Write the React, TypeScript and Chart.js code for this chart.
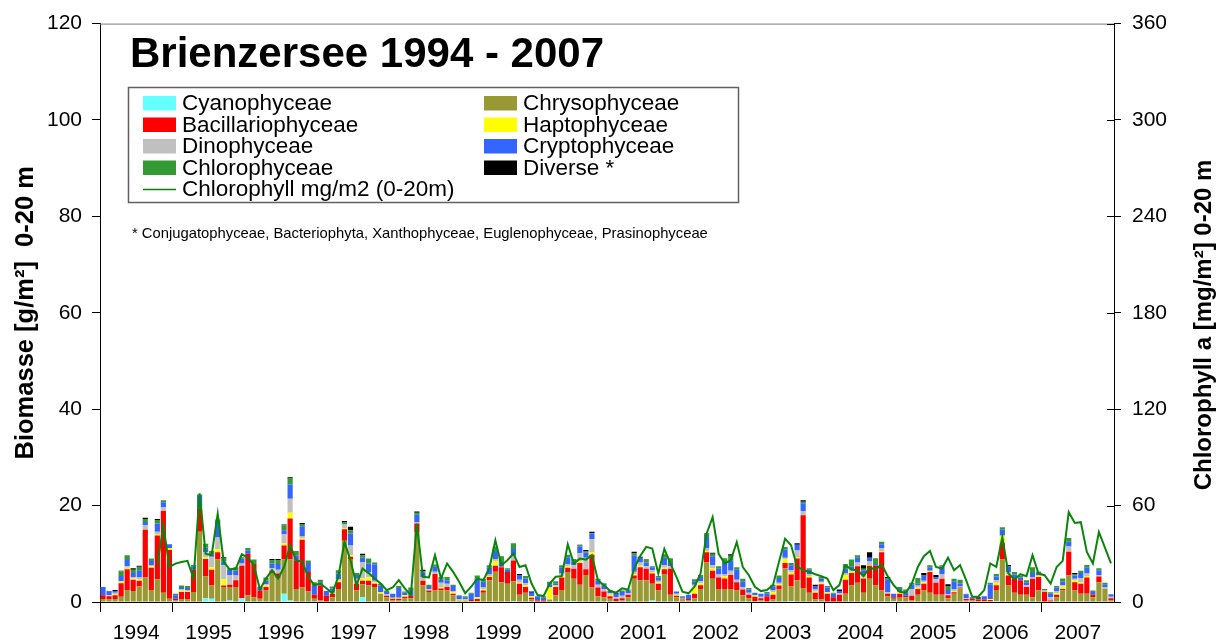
import React, { useEffect, useRef } from 'react';
import { Chart, registerables } from 'chart.js';

Chart.register(...registerables);

const YEARS = ['1994', '1995', '1996', '1997', '1998', '1999', '2000', '2001', '2002', '2003', '2004', '2005', '2006', '2007'];
const MONTHS = ['01', '02', '03', '04', '05', '06', '07', '08', '09', '10', '11', '12'];

// Biomass g/m2 (0-20 m), one value per month, 1994..2007
const cyanophyceae = [
  0, 0, 0, 0, 0, 0, 0, 0, 0, 0, 0, 0,
  0, 0, 0, 0, 0, 0.8, 0.7, 0, 0, 0.3, 0, 0.8,
  0, 0, 0, 0, 0, 0, 1.7, 0.3, 0, 0, 0, 0,
  0, 0, 0, 0, 0, 0, 0, 1.0, 0, 0, 0, 0,
  0, 0, 0, 0, 0, 0, 0, 0, 0, 0, 0, 0,
  0, 0, 0, 0, 0, 0, 0, 0, 0.2, 0, 0, 0,
  0, 0, 0, 0, 0, 0.2, 0.2, 0, 0, 0, 0, 0,
  0, 0, 0, 0, 0, 0, 0, 0.3, 0, 0, 0, 0,
  0, 0, 0, 0, 0, 0.2, 0, 0, 0, 0, 0, 0,
  0, 0, 0, 0, 0, 0, 0.2, 0, 0, 0, 0, 0,
  0, 0, 0, 0, 0, 0, 0, 0, 0, 0, 0, 0.2,
  0, 0, 0, 0, 0, 0, 0, 0, 0, 0, 0, 0,
  0, 0, 0, 0, 0.2, 0, 0, 0, 0, 0, 0, 0,
  0, 0, 0, 0, 0, 0, 0, 0, 0, 0, 0, 0,
];
const chrysophyceae = [
  0.6, 0.5, 0.6, 1.1, 2.5, 2.3, 3.2, 5.1, 2.5, 4.7, 1.9, 0.7,
  0.3, 0.6, 0.5, 2.1, 14.6, 4.5, 2.7, 8.8, 3.1, 2.8, 3.1, 0,
  1.4, 1.0, 0.7, 2.4, 6.0, 4.9, 7.1, 8.5, 2.7, 3.0, 2.2, 0.7,
  0.3, 0.1, 1.0, 2.7, 12.7, 8.9, 2.4, 2.7, 3.4, 3.1, 1.7, 1.0,
  0.3, 0.3, 0.8, 0.8, 14.5, 3.4, 2.1, 2.4, 2.4, 2.4, 1.4, 0.3,
  0.3, 0.2, 0.2, 1.9, 4.5, 6.3, 4.1, 3.8, 4.1, 1.5, 1.9, 0.5,
  0, 0, 0.5, 1.4, 2.5, 6.0, 4.6, 3.6, 5.6, 3.0, 1.2, 1.0,
  0.7, 0.2, 0.3, 1.0, 4.8, 4.5, 4.5, 3.5, 2.4, 5.8, 1.5, 1.0,
  0.3, 0.3, 0.8, 2.7, 8.2, 4.6, 2.7, 2.7, 2.7, 2.4, 1.4, 0.8,
  0.2, 0.3, 0, 0.5, 2.6, 7.0, 3.0, 4.5, 2.9, 1.9, 0.5, 0.5,
  0.1, 0, 0, 1.7, 3.4, 4.0, 1.9, 4.8, 3.4, 2.4, 1.2, 0.5,
  0.9, 1.0, 0.3, 1.5, 2.4, 1.9, 1.5, 1.5, 0.8, 1.7, 2.8, 0.3,
  0.3, 0.2, 0.2, 0.2, 2.3, 8.8, 3.4, 1.9, 1.5, 1.5, 1.0, 2.4,
  0, 0, 1.0, 2.4, 5.5, 2.4, 1.7, 1.7, 1.0, 4.1, 2.7, 0.3,
];
const bacillariophyceae = [
  0.8, 0.7, 0.8, 2.8, 4.3, 2.3, 1.2, 9.9, 4.6, 9.1, 17.0, 10.1,
  0.4, 1.5, 1.6, 4.6, 4.7, 3.6, 3.3, 1.5, 0.3, 0.5, 1.4, 6.7,
  8.6, 6.9, 1.7, 0.7, 0.5, 1.0, 2.9, 8.5, 5.8, 9.9, 4.0, 0.8,
  3.1, 1.2, 0.7, 1.4, 2.4, 0.5, 1.4, 0.7, 1.0, 0.7, 0, 0.3,
  0.4, 0.4, 0.3, 0.5, 1.8, 1.0, 0.3, 3.4, 0.4, 0.7, 0.3, 0,
  0, 0.2, 0.4, 0.5, 0.7, 1.2, 3.1, 2.4, 4.3, 2.3, 1.2, 0.4,
  0.3, 0.3, 0, 1.7, 2.6, 0.9, 2.1, 4.5, 1.2, 6.8, 1.8, 1.2,
  0.5, 0.5, 0.5, 0.5, 0.7, 2.7, 2.4, 2.1, 1.4, 1.0, 5.4, 0.3,
  0.2, 0.3, 0.9, 0.8, 2.1, 1.7, 2.4, 2.2, 2.9, 1.7, 1.2, 0.7,
  0.9, 0.5, 1.2, 1.0, 0.8, 1.1, 2.5, 4.5, 15.1, 3.2, 1.4, 3.2,
  1.6, 1.0, 1.5, 2.9, 2.6, 3.4, 3.0, 2.7, 4.1, 7.9, 0.5, 0.3,
  0.8, 0.3, 1.0, 1.2, 1.4, 4.3, 2.5, 3.3, 0.6, 0.3, 0.2, 0.3,
  0.4, 0.3, 0.3, 0.2, 1.0, 3.4, 2.1, 2.9, 3.0, 1.6, 3.8, 2.8,
  2.1, 0.3, 0.5, 0.3, 4.9, 1.7, 2.1, 3.4, 0.5, 1.2, 0, 0.5,
];
const haptophyceae = [
  0, 0, 0.2, 0.4, 0.3, 0.3, 0.3, 0, 0.3, 0.3, 0, 0.4,
  0, 0.3, 0.2, 0, 0, 0.4, 0.5, 0.7, 1.3, 0, 0, 0,
  0, 0, 0, 0.3, 0, 0, 0.5, 1.2, 0, 0.4, 0, 0,
  0, 0, 0.2, 0.3, 0.2, 0.3, 0, 0.5, 0.7, 0.3, 0.3, 0,
  0.2, 0.2, 0.3, 0, 0, 0, 0.2, 0, 0.3, 0, 0.3, 0.2,
  0.2, 0, 0.4, 0.3, 0.2, 1.0, 0, 0, 0, 0.2, 0.3, 0.3,
  0, 0, 2.5, 0.3, 0.3, 0.3, 0, 0.3, 0, 0.5, 0, 0,
  0.3, 0, 0, 0, 0.3, 0.3, 0, 0.3, 0.3, 0.3, 0, 0.2,
  0.2, 0, 1.6, 0.4, 0.3, 0.5, 0, 0.5, 0, 0, 0, 0,
  0.3, 0, 0, 0.5, 0.3, 0.8, 0.4, 0.3, 0, 0.3, 0.3, 0.3,
  0.3, 0, 0, 1.0, 0.3, 0, 0.2, 0.2, 0, 0.2, 0, 0,
  0.3, 0, 0, 0.3, 0.3, 0.3, 0, 0, 0, 0.3, 0, 0,
  0, 0, 0, 0.2, 0.5, 1.4, 0.3, 0, 0, 0, 0, 0.3,
  0, 0, 0.3, 0.5, 0, 0.4, 0.3, 0.3, 0, 0, 0, 0,
];
const dinophyceae = [
  0, 0.2, 0.3, 0, 0.3, 0.3, 0.4, 1.0, 0.3, 0.5, 0.8, 0,
  0, 0.3, 0.2, 0, 0, 1.0, 2.2, 2.4, 2.9, 2.0, 1.0, 0.5,
  0, 0, 0, 0.3, 0.5, 0.8, 1.9, 2.9, 0, 0.3, 0, 0,
  0, 0, 0, 0.3, 0.8, 2.0, 1.0, 3.4, 1.0, 0.3, 0, 0.3,
  0, 0, 0, 0, 0.3, 0.7, 0, 0.5, 0.9, 0.7, 0.3, 0,
  0, 0, 0, 0.3, 0.3, 0.4, 0.1, 0, 1.0, 0.6, 0.5, 0,
  0, 0, 0, 0, 0.5, 0.5, 0.7, 1.7, 2.4, 2.7, 0.6, 0.5,
  0.3, 0.3, 0.5, 0.3, 0.5, 0.7, 0.5, 0.4, 0.3, 0.5, 0.5, 0.2,
  0, 0, 0.3, 0.4, 0.5, 0.6, 0.6, 0.3, 0.9, 0.5, 0.5, 0.4,
  0, 0.3, 0, 0.4, 0.3, 0.3, 0.5, 1.4, 0.9, 0.4, 0.4, 0.2,
  0, 0, 0.3, 0.3, 0.5, 0.8, 0.5, 0.7, 0, 0.7, 0.3, 0,
  0, 0, 1.4, 0.4, 0.3, 0, 0.7, 1.0, 0.2, 0.3, 0.2, 0.2,
  0, 0, 0, 0, 0.5, 0.2, 0.3, 0.1, 0, 0.4, 0.3, 0,
  0.3, 0.7, 0.5, 0.3, 1.1, 0.3, 0.9, 0.5, 0, 0.3, 0.4, 0.3,
];
const cryptophyceae = [
  1.7, 0.8, 0.4, 1.1, 1.3, 0.8, 1.5, 0.6, 0.8, 1.7, 1.0, 0.8,
  0.7, 0.4, 0.4, 0.7, 2.7, 1.0, 0.4, 3.2, 0.8, 1.1, 1.0, 1.0,
  0.7, 0, 0.7, 0.7, 1.0, 1.2, 0.8, 3.0, 1.2, 2.1, 1.9, 1.8,
  0.7, 1.0, 0.9, 1.2, 0, 2.5, 0.8, 0.9, 1.9, 3.4, 1.4, 0.5,
  0.8, 2.0, 0.5, 1.2, 1.5, 1.0, 0.7, 1.0, 0.7, 0.7, 1.0, 0.8,
  0.5, 1.3, 3.8, 1.2, 1.4, 1.7, 1.0, 0.5, 1.4, 1.0, 1.0, 0.7,
  0.9, 0.6, 0.7, 0.5, 1.2, 1.4, 0.8, 1.4, 1.0, 1.2, 0.9, 0.8,
  0.6, 0.7, 0.8, 0.6, 3.3, 1.0, 0.8, 0.6, 0.7, 1.6, 0.7, 0.5,
  0.3, 0.9, 0.7, 0.9, 2.4, 1.9, 1.2, 2.4, 2.1, 2.1, 1.2, 0.7,
  0.5, 0.6, 0.6, 0.8, 1.0, 1.7, 1.0, 1.2, 1.6, 0.9, 0.7, 0.6,
  1.0, 0.7, 0.5, 1.0, 0.6, 1.0, 1.0, 0.8, 0.4, 0.8, 2.7, 0.7,
  0.7, 0.7, 0.9, 0.4, 1.1, 0.7, 0.4, 1.6, 0.9, 1.7, 0.6, 0.8,
  0.3, 0.2, 0.7, 3.1, 0.8, 1.2, 1.3, 0.8, 0.6, 0.6, 0.9, 0.6,
  0, 0.7, 0.7, 0.7, 1.0, 0.7, 1.0, 1.2, 0.6, 1.0, 0.5, 0.5,
];
const chlorophyceae = [
  0, 0, 0, 1.0, 1.0, 0.7, 0.7, 0.6, 0.5, 0.7, 0.4, 0,
  0.3, 0.3, 0.4, 0.3, 0.3, 0.8, 0.8, 0.5, 0.6, 0.3, 0.7, 0.3,
  0.5, 0.9, 0, 0.7, 0.6, 0.7, 1.0, 1.2, 0.9, 0.5, 0.5, 0.8,
  0.5, 0, 0.4, 0.7, 0.5, 0.7, 0.4, 0.5, 1.0, 0.4, 0.4, 0.3,
  0, 0.4, 0.3, 0.5, 0.4, 0.3, 0.3, 0.5, 0.5, 0.7, 0.3, 0.1,
  0.2, 0.2, 0.7, 0.6, 0.5, 0.9, 1.2, 0.3, 1.2, 0, 0.5, 0,
  0, 0.3, 0.5, 0.4, 0.5, 0.5, 0.5, 0.2, 0.3, 0.1, 0.3, 0.4,
  0, 0, 0.3, 0.2, 0.5, 0, 0.4, 0.2, 0.3, 0.7, 1.0, 0,
  0.2, 0, 0.4, 0.4, 0.5, 0.5, 0.5, 1.0, 1.0, 0.5, 0.5, 0.3,
  0, 0, 0.3, 0.4, 0.5, 0.5, 0.5, 0, 0.3, 0.3, 0, 0.5,
  0.3, 0.2, 0, 0.7, 1.4, 0.5, 0.3, 0, 1.2, 0.5, 0.2, 0,
  0.4, 0.6, 0.4, 1.2, 0, 0.4, 0, 0.2, 0.7, 0.5, 0.8, 0.1,
  0, 0, 0, 0.3, 0.5, 0.5, 0, 0.5, 0.3, 0.4, 1.2, 0,
  0.3, 0.3, 0.3, 0.7, 0.8, 0.3, 0.5, 0.6, 0.3, 0.4, 0.4, 0,
];
const diverse = [
  0, 0.1, 0.2, 0.1, 0, 0.3, 0.2, 0.3, 0, 0.2, 0, 0,
  0, 0, 0, 0, 0, 0, 0, 0, 0.3, 0, 0, 0,
  0, 0, 0, 0, 0.3, 0.3, 0.2, 0.3, 0, 0.2, 0, 0,
  0, 0, 0, 0, 0.2, 0.7, 0, 0.3, 0, 0, 0, 0,
  0, 0, 0, 0, 0.3, 0.3, 0, 0, 0, 0, 0, 0,
  0, 0, 0, 0, 0, 0, 0, 0, 0, 0.2, 0, 0.3,
  0, 0, 0, 0, 0, 0, 0, 0.2, 0.3, 0.3, 0, 0,
  0, 0.2, 0, 0, 0.3, 0.2, 0.2, 0, 0, 0, 0, 0,
  0, 0, 0, 0, 0.2, 0.2, 0, 0, 0.3, 0, 0, 0,
  0, 0, 0, 0, 0, 0, 0, 0.3, 0.3, 0, 0.3, 0,
  0, 0, 0.3, 0.2, 0, 0, 0.7, 1.1, 0, 0, 0.3, 0,
  0, 0, 0, 0, 0.5, 0, 0.5, 0, 0.5, 0, 0, 0,
  0, 0.3, 0, 0, 0, 0, 0.3, 0, 0, 0, 0, 0.2,
  0, 0, 0, 0, 0, 0.2, 0, 0, 0, 0, 0, 0,
];
// Chlorophyll a mg/m2 (0-20 m)
const chlorophyll = [
  null, null, null, null, null, null, null, null, null, 22.9, 47.6, 21.8,
  23.9, 24.9, 25.6, 14.6, 67.6, 30.1, 29.1, 54.9, 24.9, 20.2, 20.8, 29.7,
  27.6, 22.9, 7.8, 14.6, 19.8, 14.6, 21.8, 35.3, 26, 25, 15.7, 10.5,
  11.5, 8.5, 5.4, 16, 37.3, 26, 10.5, 20.8, 18, 14.6, 11.5, 7.4,
  9, 13.6, 8.5, 4.3, 48.7, 15.7, 15.3, 29.1, 14.6, 24, 18.8, 12.6,
  5.4, 9.5, 14.6, 13.6, 20.8, 38.4, 22.9, 26, 30.1, 21.8, 22.9, 11.5,
  4.3, 3.7, 11.5, 15.7, 16.1, 35.9, 24, 27, 26.4, 29.1, 13.6, 10.5,
  7, 5.8, 8.5, 7.6, 20.8, 28.6, 34.3, 33.3, 17.7, 33, 24, 15.7,
  6.4, 5.4, 9.5, 17.7, 42.5, 52.8, 30, 24, 26, 37.3, 21.8, 16.7,
  9.5, 6.8, 7.4, 10.5, 25, 39.4, 35.3, 22, 19.8, 18.8, 17.3, 16.1,
  14.6, 7.4, 10.5, 22.9, 20.2, 19.8, 16.1, 21.4, 20.2, 23.5, 16.1, 10.5,
  6.4, 5.8, 11.5, 21.8, 28.5, 31.8, 21.8, 20.8, 27.6, 19.8, 22.9, 13.6,
  3.3, 3.3, 7.4, 24, 21.8, 40.4, 17.7, 14, 17.3, 16.1, 29.1, 17.7,
  16.7, 11.5, 21.8, 25.6, 55.9, 49.2, 49.7, 31.1, 24, 43.5, 33.8, 24,
];

const labels = YEARS.flatMap((y) => MONTHS.map((m) => `${y}-${m}`));

const FONT = '"Liberation Sans", Arial, Helvetica, sans-serif';

const overlayPlugin = {
  id: 'overlay',
  afterDraw(chart: any) {
    const { ctx, chartArea } = chart;
    ctx.save();
    // top frame line
    ctx.strokeStyle = '#7a7a7a';
    ctx.lineWidth = 1;
    ctx.beginPath();
    ctx.moveTo(chartArea.left, chartArea.top + 0.5);
    ctx.lineTo(chartArea.right, chartArea.top + 0.5);
    ctx.stroke();

    // inner part of right axis ticks
    const y1 = chart.scales.y1;
    ctx.strokeStyle = '#000';
    y1.ticks.forEach((t: any) => {
      const py = Math.round(y1.getPixelForValue(t.value)) + 0.5;
      ctx.beginPath();
      ctx.moveTo(chartArea.right - 7, py);
      ctx.lineTo(chartArea.right, py);
      ctx.stroke();
    });

    // right axis title (reads bottom to top)
    ctx.fillStyle = '#000';
    ctx.font = `bold 24px ${FONT}`;
    ctx.textAlign = 'center';
    ctx.textBaseline = 'middle';
    ctx.translate(1204, 325);
    ctx.rotate(-Math.PI / 2);
    ctx.fillText('Chlorophyll a [mg/m²] 0-20 m', 0, 0);
    ctx.restore();

    ctx.save();
    // main title
    ctx.fillStyle = '#000';
    ctx.font = `bold 42px ${FONT}`;
    ctx.textAlign = 'left';
    ctx.textBaseline = 'alphabetic';
    ctx.fillText('Brienzersee 1994 - 2007', 130, 67);

    // legend box
    ctx.strokeStyle = '#606060';
    ctx.lineWidth = 1.5;
    ctx.strokeRect(128.5, 87.5, 610, 115);
    ctx.font = `22.5px ${FONT}`;
    ctx.textBaseline = 'middle';
    const ds = chart.data.datasets;
    ds.forEach((d: any, k: number) => {
      const row = Math.floor(k / 2);
      const col = k % 2;
      const cy = 103 + row * 21.5;
      const sx = col === 0 ? 143 : 484;
      const tx = col === 0 ? 182 : 523;
      if (d.type === 'line') {
        ctx.strokeStyle = d.borderColor;
        ctx.lineWidth = 1.5;
        ctx.beginPath();
        ctx.moveTo(sx, cy + 0.5);
        ctx.lineTo(sx + 33, cy + 0.5);
        ctx.stroke();
      } else {
        ctx.fillStyle = d.backgroundColor;
        ctx.fillRect(sx, cy - 7, 33, 14.5);
      }
      ctx.fillStyle = '#000';
      ctx.fillText(d.label, tx, cy + 1);
    });

    // footnote
    ctx.font = `14.8px ${FONT}`;
    ctx.fillText('* Conjugatophyceae, Bacteriophyta, Xanthophyceae, Euglenophyceae, Prasinophyceae', 132, 234);
    ctx.restore();
  },
};

const SERIES = [
  { label: 'Cyanophyceae', data: cyanophyceae, color: '#66FFFF' },
  { label: 'Chrysophyceae', data: chrysophyceae, color: '#999933' },
  { label: 'Bacillariophyceae', data: bacillariophyceae, color: '#FF0000' },
  { label: 'Haptophyceae', data: haptophyceae, color: '#FFFF00' },
  { label: 'Dinophyceae', data: dinophyceae, color: '#C0C0C0' },
  { label: 'Cryptophyceae', data: cryptophyceae, color: '#3366FF' },
  { label: 'Chlorophyceae', data: chlorophyceae, color: '#339933' },
  { label: 'Diverse *', data: diverse, color: '#000000' },
];

export default function App() {
  const ref = useRef<HTMLCanvasElement | null>(null);

  useEffect(() => {
    document.body.style.margin = '0';
    if (!ref.current) return;
    const barSets = SERIES.map((s) => ({
      type: 'bar' as const,
      label: s.label,
      data: s.data,
      backgroundColor: s.color,
      borderWidth: 0,
      yAxisID: 'y',
      stack: 'bio',
      order: 1,
      categoryPercentage: 0.86,
      barPercentage: 1.0,
    }));
    const chart = new Chart(ref.current, {
      type: 'bar',
      data: {
        labels,
        datasets: [
          ...barSets,
          {
            type: 'line' as const,
            label: 'Chlorophyll mg/m2 (0-20m)',
            data: chlorophyll,
            borderColor: '#0a850a',
            backgroundColor: '#0a850a',
            borderWidth: 2,
            pointRadius: 0,
            tension: 0,
            spanGaps: true,
            yAxisID: 'y1',
            order: 0,
          } as any,
        ],
      },
      options: {
        responsive: false,
        animation: false,
        devicePixelRatio: 1,
        layout: { padding: { top: 20, left: 0, right: 0, bottom: 0 } },
        plugins: {
          legend: { display: false },
          tooltip: { enabled: false },
        },
        scales: {
          x: {
            stacked: true,
            offset: true,
            grid: {
              display: true,
              offset: true,
              drawOnChartArea: false,
              drawTicks: true,
              tickLength: 10,
              color: (c: any) => (c.index % 12 === 0 ? '#000' : 'rgba(0,0,0,0)'),
            },
            border: { display: true, color: '#000', width: 1 },
            ticks: {
              autoSkip: false,
              maxRotation: 0,
              minRotation: 0,
              labelOffset: -3,
              padding: 9,
              color: '#000',
              font: { family: FONT, size: 21 },
              callback: (_v: any, i: number) => (i % 12 === 6 ? YEARS[Math.floor(i / 12)] : ''),
            },
            afterFit: (s: any) => { s.height = 42; },
          },
          y: {
            stacked: true,
            position: 'left',
            min: 0,
            max: 120,
            grid: { drawOnChartArea: false, tickLength: 8, color: '#000' },
            border: { display: true, color: '#000', width: 1 },
            ticks: {
              stepSize: 20,
              padding: 10,
              color: '#000',
              font: { family: FONT, size: 21 },
            },
            title: {
              display: true,
              text: 'Biomasse [g/m²]  0-20 m',
              color: '#000',
              font: { family: FONT, size: 25.5, weight: 'bold' },
              padding: { top: 11, bottom: 0 },
            },
            afterFit: (s: any) => { s.width = 100; },
          },
          y1: {
            position: 'right',
            min: 0,
            max: 360,
            grid: { drawOnChartArea: false, tickLength: 7, color: '#000' },
            border: { display: true, color: '#000', width: 1 },
            ticks: {
              stepSize: 60,
              padding: 11,
              color: '#000',
              font: { family: FONT, size: 21 },
            },
            afterFit: (s: any) => { s.width = 105; },
          },
        },
      },
      plugins: [overlayPlugin],
    });
    return () => chart.destroy();
  }, []);

  return (
    <div style={{ width: 1219, height: 644, background: '#fff' }}>
      <canvas ref={ref} width={1219} height={644} style={{ display: 'block' }} />
    </div>
  );
}
